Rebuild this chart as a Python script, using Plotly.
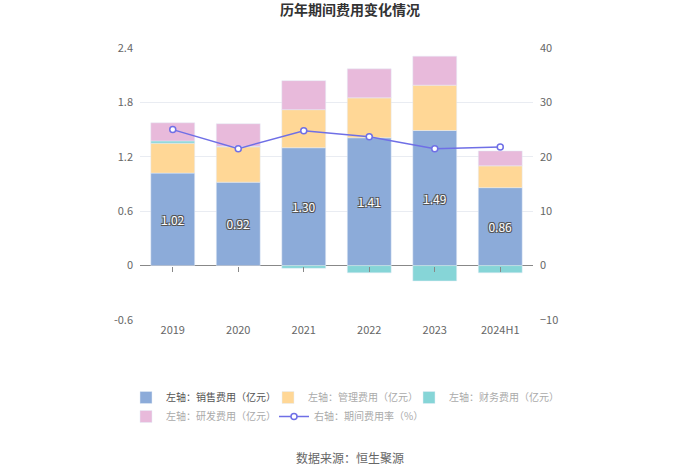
import plotly.graph_objects as go

categories = ["2019", "2020", "2021", "2022", "2023", "2024H1"]
sales = [1.02, 0.92, 1.30, 1.41, 1.49, 0.86]
admin = [0.33, 0.39, 0.42, 0.44, 0.50, 0.24]
finance = [0.025, 0.005, -0.03, -0.08, -0.17, -0.08]
rnd = [0.20, 0.25, 0.32, 0.32, 0.32, 0.165]
rate = [25.0, 21.5, 24.8, 23.7, 21.5, 21.8]

left_ticks = [-0.6, 0, 0.6, 1.2, 1.8, 2.4]
left_tick_text = ["-0.6", "0", "0.6", "1.2", "1.8", "2.4"]
right_ticks = [-10, 0, 10, 20, 30, 40]

names = ["左轴：销售费用（亿元）", "左轴：管理费用（亿元）", "左轴：财务费用（亿元）",
         "左轴：研发费用（亿元）", "右轴：期间费用率（%）"]

FONT = "Noto Sans CJK SC"

fig = go.Figure()
fig.add_trace(go.Bar(
    x=categories, y=sales, name=names[0], marker_color="#8CABD9",
    text=[f"{v:.2f}" for v in sales], textposition="inside",
    insidetextanchor="middle",
    textfont=dict(color="white", size=12, family=FONT,
                  shadow="1px 1px 0 #555, -1px -1px 0 #555, 1px -1px 0 #555, -1px 1px 0 #555"),
    hoverinfo="x+y", legend="legend", showlegend=True,
))
fig.add_trace(go.Bar(x=categories, y=admin, name=names[1], marker_color="#FFD796",
                     legend="legend2", showlegend=True))
fig.add_trace(go.Bar(x=categories, y=finance, name=names[2], marker_color="#86D5D7",
                     legend="legend3", showlegend=True))
fig.add_trace(go.Bar(x=categories, y=rnd, name=names[3], marker_color="#E8BADB",
                     legend="legend4", showlegend=True))
fig.add_trace(go.Scatter(
    x=categories, y=rate, name=names[4], yaxis="y2", mode="lines+markers",
    line=dict(color="#6F6FE6", width=1.5),
    marker=dict(symbol="circle", size=6, color="white",
                line=dict(color="#6F6FE6", width=1.5)),
    legend="legend5", showlegend=True,
))
# invisible helper trace so the zero-line tick axis gets drawn at category centres
fig.add_trace(go.Scatter(x=categories, y=[None] * len(categories), xaxis="x2",
                         mode="markers", showlegend=False, hoverinfo="skip"))

plot_l, plot_r, plot_t, plot_b = 140, 533, 48, 320
plot_w = plot_r - plot_l
plot_h = plot_b - plot_t
y_min, y_max = -0.6, 2.4


def px_x(x):
    return (x - plot_l) / plot_w


def px_y(y):
    return (plot_b - y) / plot_h


def legend_at(x_px, y_px, color):
    return dict(x=px_x(x_px), y=px_y(y_px), orientation="h", xanchor="left", yanchor="top",
                bgcolor="rgba(0,0,0,0)", itemclick=False, itemdoubleclick=False,
                font=dict(size=10, color=color, family=FONT), visible=True)


fig.update_layout(
    width=700, height=473,
    margin=dict(l=plot_l, r=700 - plot_r, t=plot_t, b=473 - plot_b, autoexpand=False),
    showlegend=True,
    barmode="relative", bargap=0.33,
    plot_bgcolor="white", paper_bgcolor="white",
    font=dict(family=FONT, size=11, color="#666"),
    title=dict(text="<b>历年期间费用变化情况</b>", x=0.5, xanchor="center",
               y=0.99, yanchor="top",
               font=dict(size=14, color="#333", family=FONT)),
    xaxis=dict(type="category", showgrid=False, showline=False, ticks="",
               range=[-0.5, len(categories) - 0.5],
               tickfont=dict(size=11, color="#666"), ticklabelstandoff=2),
    xaxis2=dict(type="category", overlaying="x", anchor="free",
                position=(0 - y_min) / (y_max - y_min),
                range=[-0.5, len(categories) - 0.5], showticklabels=False,
                ticks="outside", ticklen=5, tickcolor="#888", showgrid=False,
                showline=False, zeroline=False),
    yaxis=dict(range=[y_min, y_max], tickvals=left_ticks, ticktext=left_tick_text,
               showgrid=True, gridcolor="#E9ECF2", gridwidth=1,
               zeroline=True, zerolinecolor="#888", zerolinewidth=1,
               tickfont=dict(size=11, color="#666"), ticklabelstandoff=6),
    yaxis2=dict(range=[-10, 40], tickvals=right_ticks, overlaying="y", side="right",
                showgrid=False, zeroline=False,
                tickfont=dict(size=11, color="#666"), ticklabelstandoff=6),
    legend=legend_at(126, 383, "#555"),
    legend2=legend_at(268, 383, "#AAA"),
    legend3=legend_at(409, 383, "#AAA"),
    legend4=legend_at(126, 402, "#AAA"),
    legend5=legend_at(274, 402, "#AAA"),
    annotations=[dict(text="数据来源：恒生聚源", x=px_x(350), xref="paper", xanchor="center",
                      y=px_y(457), yref="paper", yanchor="middle", showarrow=False,
                      font=dict(size=12, color="#666", family=FONT))],
)

fig.write_html("out.html", config={"displayModeBar": False},
               post_script="document.body.style.margin='0';")
